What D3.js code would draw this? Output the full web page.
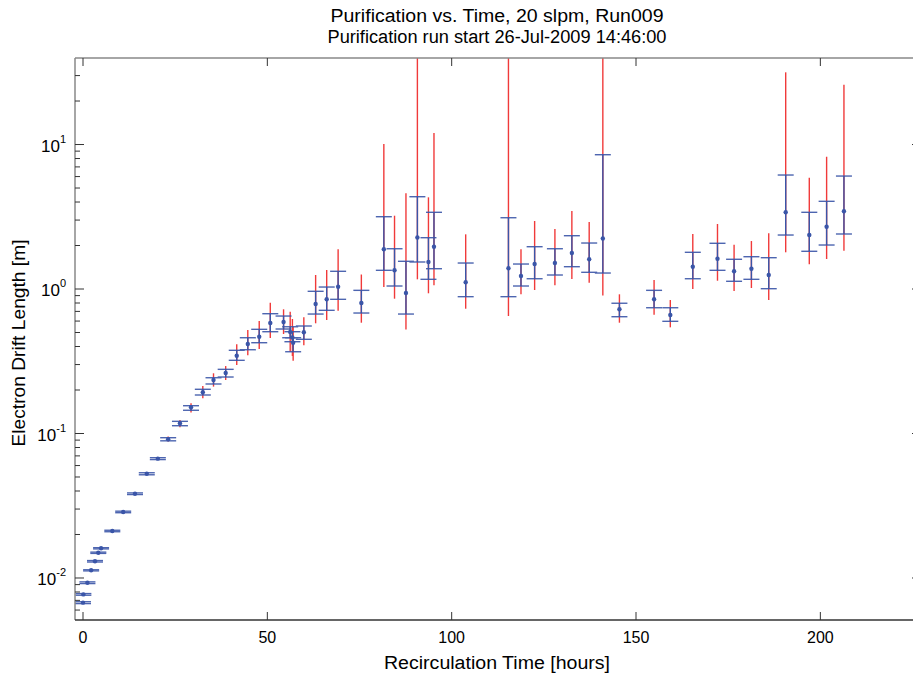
<!DOCTYPE html>
<html>
<head>
<meta charset="utf-8">
<script src="https://cdn.jsdelivr.net/npm/d3@7/dist/d3.min.js"></script>
<style>
body { margin: 0; background: #fff; }
text { font-family: "Liberation Sans", Arial, sans-serif; fill: #000; }
</style>
</head>
<body>
<div id="container"><svg></svg></div>
<script>
let width = 913;
let height = 675;
let padding = {'left': 75, 'right': 921, 'top': 58, 'bottom': 620};

// recirculation time [hours]
let hours = [0.0, 0.1, 1.2, 2.2, 3.25, 4.15, 4.9, 7.95, 10.9, 14.1,
    17.3, 20.3, 23.1, 26.3, 29.3, 32.5, 35.4, 38.7, 41.7, 44.7,
    47.8, 50.8, 54.4, 56.2, 56.8, 57.0, 59.9, 63.1, 66.1, 69.2,
    75.5, 81.6, 84.5, 87.6, 90.7, 93.7, 95.2, 103.8, 115.4, 118.8,
    122.5, 128.0, 132.6, 137.3, 141.0, 145.5, 154.9, 159.3, 165.4, 172.1,
    176.6, 181.3, 186.0, 190.6, 197.0, 201.7, 206.4];
// electron drift length [m]
let driftLength = [0.00675, 0.0077, 0.00927, 0.0113, 0.01306, 0.01496, 0.01606, 0.02114, 0.02864, 0.0383,
    0.0527, 0.067, 0.0912, 0.1177, 0.152, 0.193, 0.2345, 0.2623, 0.3454, 0.4163,
    0.4677, 0.5817, 0.5909, 0.504, 0.4619, 0.4249, 0.5016, 0.7875, 0.8485, 1.037,
    0.80, 1.883, 1.347, 0.938, 2.272, 1.538, 1.962, 1.113, 1.391, 1.230,
    1.489, 1.513, 1.775, 1.606, 2.236, 0.7237, 0.8485, 0.661, 1.427, 1.621,
    1.326, 1.382, 1.25, 3.395, 2.364, 2.699, 3.45];
// inner (blue) range
let blueLo = [0.00665, 0.0076, 0.00915, 0.0112, 0.0129, 0.0148, 0.0159, 0.0209, 0.0283, 0.0378,
    0.0518, 0.0660, 0.0890, 0.1132, 0.1448, 0.1847, 0.2201, 0.246, 0.321, 0.380,
    0.4249, 0.5064, 0.5286, 0.460, 0.4317, 0.368, 0.4486, 0.671, 0.712, 0.8485,
    0.682, 1.347, 1.049, 0.671, 1.538, 1.167, 1.382, 0.885, 0.885, 1.049,
    1.178, 1.25, 1.427, 1.305, 1.290, 0.643, 0.742, 0.5976, 1.178, 1.347,
    1.131, 1.167, 1.005, 2.364, 1.824, 2.016, 2.403];
let blueHi = [0.00685, 0.0078, 0.0094, 0.0114, 0.0132, 0.0151, 0.0162, 0.0214, 0.0290, 0.0388,
    0.0535, 0.0680, 0.0935, 0.1214, 0.1557, 0.2023, 0.2432, 0.278, 0.3765, 0.460,
    0.526, 0.6746, 0.650, 0.548, 0.5064, 0.460, 0.5546, 0.964, 1.032, 1.326,
    0.979, 3.165, 1.90, 1.555, 4.352, 2.265, 3.395, 1.513, 3.114, 1.489,
    1.962, 1.90, 2.338, 2.081, 8.50, 0.797, 0.979, 0.742, 1.795, 2.072,
    1.606, 1.673, 1.647, 6.15, 3.395, 4.045, 6.05];
// outer (red) range, 60 = runs off the top
let redLo = [0.00665, 0.0076, 0.00915, 0.0112, 0.0129, 0.0148, 0.0159, 0.0209, 0.0283, 0.0378,
    0.0518, 0.0655, 0.0880, 0.1104, 0.140, 0.1753, 0.211, 0.2345, 0.298, 0.3476,
    0.3844, 0.458, 0.488, 0.368, 0.3438, 0.319, 0.4076, 0.579, 0.610, 0.708,
    0.5845, 1.032, 0.857, 0.525, 1.167, 0.934, 1.061, 0.7305, 0.650, 0.919,
    0.984, 1.061, 1.173, 1.105, 0.902, 0.5845, 0.664, 0.543, 1.0, 1.141,
    0.969, 1.016, 0.839, 1.795, 1.482, 1.613, 1.841];
let redHi = [0.00685, 0.0078, 0.0094, 0.0114, 0.0132, 0.0151, 0.0162, 0.0214, 0.0290, 0.0388,
    0.0535, 0.0685, 0.0955, 0.124, 0.1618, 0.2132, 0.261, 0.293, 0.4144, 0.520,
    0.6004, 0.804, 0.7237, 0.697, 0.620, 0.548, 0.637, 1.25, 1.354, 1.883,
    1.26, 10.08, 3.216, 4.596, 60, 4.311, 12.01, 2.39, 60, 1.883,
    2.955, 2.602, 3.467, 2.908, 60, 0.919, 1.154, 0.839, 2.403, 2.818,
    2.026, 2.148, 2.43, 31.6, 5.89, 8.23, 25.9];

let xTicks = [0, 50, 100, 150, 200];
let yDecades = [-2, -1, 0, 1];
let titleLines = ['Purification vs. Time, 20 slpm, Run009', 'Purification run start 26-Jul-2009 14:46:00'];
let titleWidths = [333, 339];
let xLabel = 'Recirculation Time [hours]';
let yLabel = 'Electron Drift Length [m]';

let blue = '#3a55a8', red = '#f03a3a';
let svg, xScale, yScale, points;

function draw() {
    points = hours.map((h, i) => ({h: h, v: driftLength[i], bl: blueLo[i], bh: blueHi[i], rl: redLo[i], rh: redHi[i]}));

    xScale = d3.scaleLinear().domain([-2.17, 227.3]).range([padding.left, padding.right]);
    yScale = d3.scaleLog().domain([0.00512, 39.7]).range([padding.bottom, padding.top]);

    svg.append('clipPath').attr('id', 'plotclip')
        .append('rect')
        .attr('x', padding.left).attr('y', padding.top)
        .attr('width', padding.right - padding.left)
        .attr('height', padding.bottom - padding.top);

    let plot = svg.append('g').attr('clip-path', 'url(#plotclip)');

    // outer red bars
    plot.append('g').selectAll('line')
        .data(points)
        .join('line')
        .attr('x1', d => xScale(d.h)).attr('x2', d => xScale(d.h))
        .attr('y1', d => yScale(d.rl)).attr('y2', d => yScale(d.rh))
        .attr('stroke', red).attr('stroke-width', 1.4);

    // inner blue bars
    plot.append('g').selectAll('line')
        .data(points)
        .join('line')
        .attr('x1', d => xScale(d.h)).attr('x2', d => xScale(d.h))
        .attr('y1', d => yScale(d.bl)).attr('y2', d => yScale(d.bh))
        .attr('stroke', blue).attr('stroke-width', 1.4);

    let caps = plot.append('g').attr('stroke', blue).attr('stroke-width', 1.4).attr('opacity', 0.9);
    ['bl', 'bh'].forEach(k => {
        caps.append('g').selectAll('line')
            .data(points)
            .join('line')
            .attr('x1', d => xScale(d.h) - 8).attr('x2', d => xScale(d.h) + 8)
            .attr('y1', d => yScale(d[k])).attr('y2', d => yScale(d[k]));
    });

    plot.append('g').selectAll('circle')
        .data(points)
        .join('circle')
        .attr('cx', d => xScale(d.h))
        .attr('cy', d => yScale(d.v))
        .attr('r', 2.2)
        .attr('fill', blue);

    // frame
    let frame = svg.append('g');
    frame.append('line').attr('x1', padding.left).attr('x2', padding.left)
        .attr('y1', padding.top).attr('y2', padding.bottom)
        .attr('stroke', '#888').attr('stroke-width', 1.5);
    frame.append('line').attr('x1', padding.left).attr('x2', padding.right)
        .attr('y1', padding.top).attr('y2', padding.top)
        .attr('stroke', '#888').attr('stroke-width', 1.5);
    frame.append('line').attr('x1', padding.left).attr('x2', padding.right)
        .attr('y1', padding.bottom).attr('y2', padding.bottom)
        .attr('stroke', '#333').attr('stroke-width', 1.5);
    frame.append('line').attr('x1', padding.right).attr('x2', padding.right)
        .attr('y1', padding.top).attr('y2', padding.bottom)
        .attr('stroke', '#888').attr('stroke-width', 1.5);

    // x ticks, bottom and top
    let xt = svg.append('g').attr('stroke', '#333').attr('stroke-width', 1);
    xt.selectAll('.xb').data(xTicks).join('line')
        .attr('x1', d => xScale(d)).attr('x2', d => xScale(d))
        .attr('y1', padding.bottom).attr('y2', padding.bottom - 8);
    xt.selectAll('.xtop').data(xTicks).join('line')
        .attr('x1', d => xScale(d)).attr('x2', d => xScale(d))
        .attr('y1', padding.top).attr('y2', padding.top + 8);
    svg.append('g').selectAll('text')
        .data(xTicks)
        .join('text')
        .attr('x', d => xScale(d))
        .attr('y', 643)
        .attr('text-anchor', 'middle')
        .style('font-size', '16px')
        .text(d => d);

    // y ticks, major and minor, left and right
    let minor = [];
    yDecades.concat([-3]).forEach(e => {
        for (let m = 2; m <= 9; m++) {
            let v = m * Math.pow(10, e);
            if (v > yScale.domain()[0] && v < yScale.domain()[1]) minor.push(v);
        }
    });
    let yt = svg.append('g').attr('stroke', '#333').attr('stroke-width', 1);
    yt.selectAll('.maj').data(yDecades).join('line')
        .attr('x1', padding.left).attr('x2', padding.left + 9)
        .attr('y1', d => yScale(Math.pow(10, d))).attr('y2', d => yScale(Math.pow(10, d)));
    yt.selectAll('.min').data(minor).join('line')
        .attr('x1', padding.left).attr('x2', padding.left + 5)
        .attr('y1', d => yScale(d)).attr('y2', d => yScale(d));
    yt.selectAll('.majr').data(yDecades).join('line')
        .attr('x1', padding.right).attr('x2', padding.right - 9)
        .attr('y1', d => yScale(Math.pow(10, d))).attr('y2', d => yScale(Math.pow(10, d)));
    yt.selectAll('.minr').data(minor).join('line')
        .attr('x1', padding.right).attr('x2', padding.right - 5)
        .attr('y1', d => yScale(d)).attr('y2', d => yScale(d));

    let ylab = svg.append('g').selectAll('text')
        .data(yDecades)
        .join('text')
        .attr('x', 66)
        .attr('y', d => yScale(Math.pow(10, d)) + 7)
        .attr('text-anchor', 'end')
        .style('font-size', '17px');
    ylab.append('tspan').text('10');
    ylab.append('tspan').attr('dy', -9).style('font-size', '11px').text(d => d);

    // titles
    svg.append('g').selectAll('text')
        .data(titleLines)
        .join('text')
        .attr('x', 497)
        .attr('y', (d, i) => 22 + i * 21)
        .attr('text-anchor', 'middle')
        .attr('textLength', (d, i) => titleWidths[i])
        .attr('lengthAdjust', 'spacingAndGlyphs')
        .style('font-size', '18px')
        .text(d => d);

    svg.append('text')
        .attr('x', 497).attr('y', 669)
        .attr('text-anchor', 'middle')
        .attr('textLength', 226)
        .attr('lengthAdjust', 'spacingAndGlyphs')
        .style('font-size', '18px')
        .text(xLabel);

    svg.append('text')
        .attr('transform', 'translate(25, 343) rotate(-90)')
        .attr('text-anchor', 'middle')
        .attr('textLength', 207)
        .attr('lengthAdjust', 'spacingAndGlyphs')
        .style('font-size', '18px')
        .text(yLabel);
}

function main() {
    svg = d3.select('#container')
        .select('svg')
        .attr('width', width)
        .attr('height', height);
    draw();
}

main()
</script>
</body>
</html>
